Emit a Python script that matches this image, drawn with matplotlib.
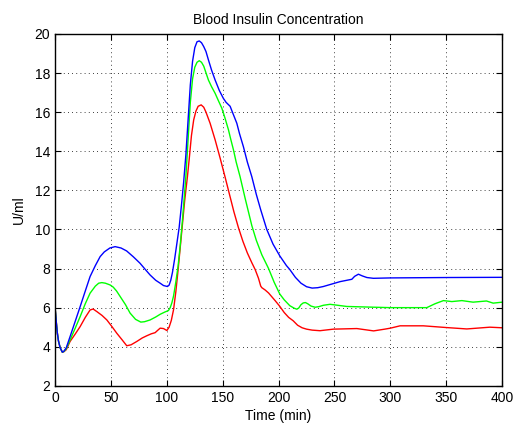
import matplotlib.pyplot as plt; plt.switch_backend('agg')

plt.rcParams['font.family'] = ['Liberation Sans', 'DejaVu Sans']

# values (time in min, insulin in U/ml)
t_blue = [0, 1, 2, 3, 4.5, 6.5, 8, 10, 13.4, 18, 22.4, 27, 31.3, 36, 40.3, 44, 49, 53.7, 59, 64, 70, 76,
          80, 85, 90, 94, 97, 100.5, 102, 103.5, 105, 107, 109, 111, 113, 115, 117, 119, 121, 123, 125, 127,
          129, 131, 133, 135, 137.2, 140, 143.2, 147, 150.6, 153, 156.6, 159, 162.6, 165, 168.5, 172, 176,
          180, 184, 189.4, 195, 201, 207, 210, 215, 220, 225, 230, 235, 240, 255, 265.5, 268, 271.4, 275,
          279, 284.8, 300, 350, 400]
v_blue = [6.0, 5.3, 4.7, 4.3, 3.95, 3.72, 3.78, 3.95, 4.52, 5.3, 6.05, 6.85, 7.59, 8.15, 8.61, 8.85, 9.05,
          9.12, 9.05, 8.9, 8.6, 8.27, 8.0, 7.67, 7.4, 7.25, 7.13, 7.08, 7.15, 7.4, 7.8, 8.5, 9.3, 10.1, 11.2,
          12.4, 13.8, 15.6, 17.4, 18.6, 19.3, 19.6, 19.64, 19.55, 19.35, 19.1, 18.67, 18.15, 17.64, 17.1,
          16.7, 16.5, 16.3, 15.95, 15.43, 14.9, 14.23, 13.45, 12.7, 11.8, 11.0, 10.0, 9.25, 8.65, 8.15, 7.95,
          7.55, 7.25, 7.07, 7.0, 7.02, 7.08, 7.33, 7.45, 7.6, 7.71, 7.62, 7.54, 7.5, 7.52, 7.54, 7.55]

t_green = [0, 1, 2, 3, 4.5, 6.5, 8, 10, 13.4, 18, 22.4, 27, 31.3, 36, 39, 41.8, 45, 49.2, 52, 55, 58.2, 63,
           67.1, 72, 76.7, 80, 85, 90, 94, 98, 101.4, 103, 104.5, 106, 108, 110, 112, 114, 117, 119, 121,
           123, 125, 127, 129, 131, 133, 137.2, 140, 143.2, 146, 149.2, 152, 155.1, 157, 159.6, 162, 165.5,
           170, 176, 180, 185, 191, 196, 201, 205, 210, 214, 216.3, 218, 220, 222, 224, 226, 229, 232.7,
           236, 240, 246, 253, 261, 280, 300, 332.6, 340, 347.5, 355, 364, 374, 386, 392, 400]
v_green = [6.0, 5.3, 4.7, 4.3, 3.95, 3.72, 3.76, 3.9, 4.35, 4.95, 5.54, 6.2, 6.74, 7.1, 7.25, 7.28, 7.25,
           7.16, 7.05, 6.85, 6.57, 6.15, 5.72, 5.4, 5.26, 5.28, 5.37, 5.52, 5.66, 5.77, 5.85, 6.0, 6.25, 6.6,
           7.3, 8.1, 9.2, 10.5, 12.7, 14.6, 16.5, 17.7, 18.3, 18.55, 18.63, 18.55, 18.35, 17.64, 17.3, 16.96,
           16.6, 16.2, 15.7, 15.1, 14.65, 14.07, 13.45, 12.7, 11.6, 10.2, 9.45, 8.7, 8.0, 7.3, 6.7, 6.4, 6.1,
           5.97, 5.92, 5.98, 6.15, 6.24, 6.26, 6.2, 6.08, 6.02, 6.05, 6.12, 6.17, 6.12, 6.06, 6.03, 6.0, 6.0,
           6.2, 6.36, 6.31, 6.36, 6.28, 6.34, 6.23, 6.28]

t_red = [0, 1, 2, 3, 4.5, 6.5, 8, 10, 13.4, 18, 22.4, 27, 31.3, 34, 37.3, 42, 46.3, 51, 55.2, 60, 64.1, 68,
         73.1, 78, 82, 86, 89.5, 92, 94, 97, 100, 102, 104, 106, 108, 110, 112, 114, 116, 118.4, 120, 122,
         124, 126, 128, 130.7, 133, 135, 138.7, 143.2, 147.7, 152, 156, 160, 164, 168, 172, 176, 179, 182,
         184, 185, 188, 191, 194, 197, 201, 205, 209, 213, 217, 221, 225, 230, 237, 249, 270, 285, 295, 300,
         308.7, 329.5, 350.5, 368.4, 389, 400]
v_red = [6.0, 5.3, 4.7, 4.3, 3.95, 3.72, 3.75, 3.85, 4.27, 4.65, 5.03, 5.5, 5.88, 5.93, 5.8, 5.6, 5.37,
         5.02, 4.69, 4.35, 4.05, 4.1, 4.27, 4.45, 4.56, 4.66, 4.72, 4.85, 4.95, 4.93, 4.83, 5.0, 5.35, 5.9,
         6.8, 7.9, 9.1, 10.3, 11.5, 12.7, 13.6, 14.8, 15.6, 16.05, 16.3, 16.37, 16.25, 16.0, 15.43, 14.58,
         13.64, 12.7, 11.8, 10.9, 10.1, 9.4, 8.8, 8.3, 7.95, 7.5, 7.1, 7.02, 6.9, 6.75, 6.55, 6.35, 6.07,
         5.75, 5.5, 5.33, 5.1, 4.97, 4.9, 4.85, 4.82, 4.9, 4.93, 4.81, 4.9, 4.95, 5.07, 5.07, 4.98, 4.91,
         5.0, 4.97]

fig = plt.figure(figsize=(5.15, 4.24), dpi=100)
ax = fig.add_axes([0.107, 0.09, 0.868, 0.83])

ax.plot(t_red, v_red, color=(1, 0, 0), lw=1)
ax.plot(t_green, v_green, color=(0, 1, 0), lw=1)
ax.plot(t_blue, v_blue, color=(0, 0, 1), lw=1)

ax.set_xlim(0, 400)
ax.set_ylim(2, 20)
ax.set_xticks(range(0, 401, 50))
ax.set_yticks(range(2, 21, 2))
ax.grid(True, color='black', linestyle=(0, (1, 4)), linewidth=0.6)
ax.tick_params(direction='in', top=True, right=True, labelsize=10, length=4)
for s in ax.spines.values():
    s.set_linewidth(1)

ax.set_title('Blood Insulin Concentration', fontsize=10, pad=7)
ax.set_xlabel('Time (min)', fontsize=10, labelpad=3)
ax.set_ylabel('U/ml', fontsize=10, labelpad=6)

plt.savefig('out.png')
